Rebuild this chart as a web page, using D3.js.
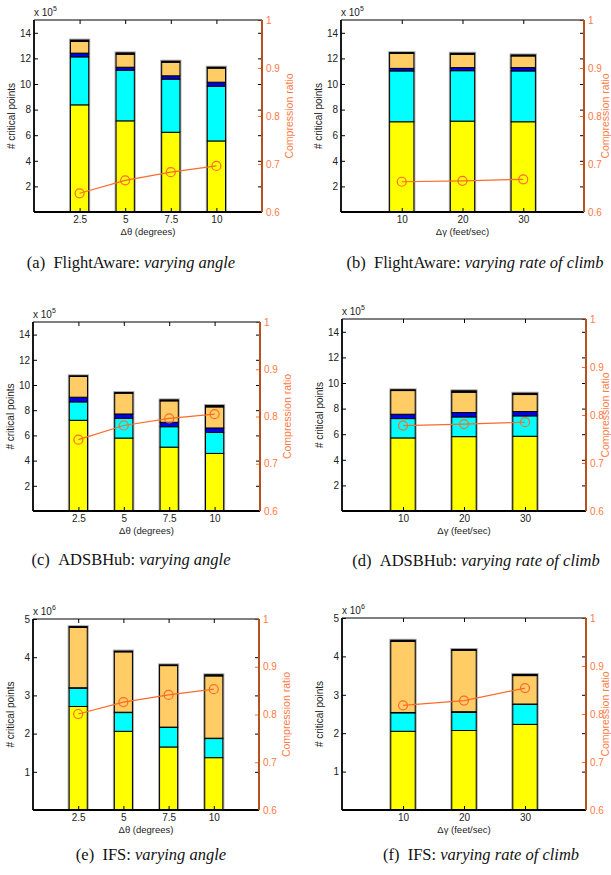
<!DOCTYPE html>
<html lang="en">
<head>
<meta charset="utf-8">
<title>Critical points and compression ratio</title>
<script src="https://cdn.jsdelivr.net/npm/d3@7"></script>
<style>
  body { margin: 0; background: #fff; }
  svg { display: block; }
  .tick text { font-family: "Liberation Sans", Arial, sans-serif; font-size: 10px; }
  .caption { font-family: "Liberation Serif", "Times New Roman", serif; font-size: 16.5px; }
</style>
</head>
<body>
<div id="chart"></div>
<script>
// categories
var angleCats = ["2.5", "5", "7.5", "10"];
var climbCats = ["10", "20", "30"];

// stacked segments per bar, bottom to top (axis units, x10^5 or x10^6)
var segNames = ["yellow", "cyan", "blue", "orange", "black"];
var segColors = ["#ffff00", "#00ffff", "#0000ee", "#ffcc66", "#000000"];

var faAngleBars = [[8.37, 3.75, 0.29, 0.91, 0.11], [7.12, 3.96, 0.23, 1.02, 0.10], [6.23, 4.15, 0.26, 1.06, 0.08], [5.55, 4.28, 0.31, 1.10, 0.07]];
var faClimbBars = [[7.05, 3.97, 0.20, 1.18, 0.05], [7.10, 3.94, 0.24, 1.04, 0.08], [7.05, 3.97, 0.26, 0.91, 0.08]];
var adAngleBars = [[7.20, 1.46, 0.37, 1.65, 0.05], [5.79, 1.57, 0.34, 1.65, 0.05], [5.07, 1.62, 0.35, 1.70, 0.08], [4.57, 1.67, 0.35, 1.67, 0.11]];
var adClimbBars = [[5.71, 1.51, 0.34, 1.85, 0.06], [5.81, 1.54, 0.34, 1.59, 0.11], [5.84, 1.59, 0.34, 1.33, 0.10]];
var ifsAngleBars = [[2.71, 0.48, 0.01, 1.58, 0.02], [2.06, 0.49, 0.01, 1.58, 0.02], [1.65, 0.51, 0.01, 1.61, 0.02], [1.37, 0.50, 0.01, 1.63, 0.03]];
var ifsClimbBars = [[2.05, 0.48, 0.01, 1.85, 0.03], [2.07, 0.47, 0.02, 1.60, 0.02], [2.23, 0.52, 0.01, 0.74, 0.03]];

// compression ratio (right axis)
var faAngleRatio = [0.639, 0.666, 0.683, 0.696];
var faClimbRatio = [0.663, 0.665, 0.668];
var adAngleRatio = [0.751, 0.781, 0.796, 0.805];
var adClimbRatio = [0.778, 0.781, 0.785];
var ifsAngleRatio = [0.801, 0.826, 0.841, 0.853];
var ifsClimbRatio = [0.818, 0.828, 0.854];

// axis ticks
var ticks1e5 = [2, 4, 6, 8, 10, 12, 14];
var ticks1e6 = [1, 2, 3, 4, 5];
var ratioTicks = [0.6, 0.7, 0.8, 0.9, 1];

var angleTitle = "\u0394\u03b8 (degrees)";
var climbTitle = "\u0394\u03b3 (feet/sec)";

var panels = [
  {bars: faAngleBars, ratio: faAngleRatio, cats: angleCats, ticks: ticks1e5, ymax: 15, exp: "5", xt: angleTitle,
   cap: ["(a)", "FlightAware: ", "varying angle"], box: [34, 262, 20, 212], cx: 131, cy: 268},
  {bars: faClimbBars, ratio: faClimbRatio, cats: climbCats, ticks: ticks1e5, ymax: 15, exp: "5", xt: climbTitle,
   cap: ["(b)", "FlightAware: ", "varying rate of climb"], box: [341, 584, 20, 212], cx: 475, cy: 268},
  {bars: adAngleBars, ratio: adAngleRatio, cats: angleCats, ticks: ticks1e5, ymax: 15, exp: "5", xt: angleTitle,
   cap: ["(c)", "ADSBHub: ", "varying angle"], box: [33, 260, 322, 511], cx: 131, cy: 565},
  {bars: adClimbBars, ratio: adClimbRatio, cats: climbCats, ticks: ticks1e5, ymax: 15, exp: "5", xt: climbTitle,
   cap: ["(d)", "ADSBHub: ", "varying rate of climb"], box: [342, 586, 319, 511], cx: 476, cy: 566},
  {bars: ifsAngleBars, ratio: ifsAngleRatio, cats: angleCats, ticks: ticks1e6, ymax: 5, exp: "6", xt: angleTitle,
   cap: ["(e)", "IFS: ", "varying angle"], box: [33, 259, 619, 810], cx: 151, cy: 860},
  {bars: ifsClimbBars, ratio: ifsClimbRatio, cats: climbCats, ticks: ticks1e6, ymax: 5, exp: "6", xt: climbTitle,
   cap: ["(f)", "IFS: ", "varying rate of climb"], box: [342, 586, 618, 810], cx: 481, cy: 860}
];

var orange = "#ff6a2a";
var orangeText = "#ff7a45";
var axisBrown = "#b8501f";

var svg = d3.select("#chart").append("svg")
  .attr("width", 611)
  .attr("height", 875);

panels.forEach(drawPanel);

function drawPanel(p) {
  var L = p.box[0], R = p.box[1], T = p.box[2], B = p.box[3];
  var n = p.cats.length;
  var x = d3.scaleLinear().domain([0, n + 1]).range([L, R]);
  var y = d3.scaleLinear().domain([0, p.ymax]).range([B, T]);
  var yr = d3.scaleLinear().domain([0.6, 1]).range([B, T]);
  var g = svg.append("g");
  var bw = x(0.4) - x(0);

  var stack = d3.stack().keys(d3.range(segNames.length))
    .value(function(d, k) { return d[k]; });
  var series = stack(p.bars);

  // grey halo behind each bar
  g.selectAll(".halo")
    .data(p.bars)
    .enter().append("rect")
    .attr("x", function(d, i) { return x(i + 1) - bw / 2 - 1.5; })
    .attr("y", function(d) { return y(d3.sum(d)) - 1.5; })
    .attr("width", bw + 3)
    .attr("height", function(d) { return B - y(d3.sum(d)) + 1.5; })
    .attr("fill", "#a8a8a8");

  g.selectAll(".seg")
    .data(series)
    .enter().append("g")
    .attr("fill", function(s, k) { return segColors[k]; })
    .selectAll("rect")
    .data(function(s) { return s; })
    .enter().append("rect")
    .attr("x", function(d, i) { return x(i + 1) - bw / 2; })
    .attr("y", function(d) { return y(d[1]); })
    .attr("width", bw)
    .attr("height", function(d) { return Math.max(0, y(d[0]) - y(d[1])); })
    .attr("stroke", "#000")
    .attr("stroke-width", 1);

  // ratio line
  var line = d3.line()
    .x(function(d, i) { return x(i + 1); })
    .y(function(d) { return yr(d); });
  g.append("path")
    .datum(p.ratio)
    .attr("d", line)
    .attr("fill", "none")
    .attr("stroke", orange)
    .attr("stroke-width", 1.2);
  g.selectAll(".pt")
    .data(p.ratio)
    .enter().append("circle")
    .attr("cx", function(d, i) { return x(i + 1); })
    .attr("cy", function(d) { return yr(d); })
    .attr("r", 4.5)
    .attr("fill", "none")
    .attr("stroke", orange)
    .attr("stroke-width", 1.2);

  // axes (ticks pointing inward)
  var left = g.append("g").attr("transform", "translate(" + L + ",0)")
    .call(d3.axisLeft(y).tickValues(p.ticks).tickFormat(d3.format("d")).tickSizeInner(-4).tickSizeOuter(0).tickPadding(3));
  var bottom = g.append("g").attr("transform", "translate(0," + B + ")")
    .call(d3.axisBottom(x).tickValues(d3.range(1, n + 1)).tickFormat(function(d) { return p.cats[d - 1]; })
      .tickSizeInner(-4).tickSizeOuter(0).tickPadding(4));
  var top = g.append("g").attr("transform", "translate(0," + T + ")")
    .call(d3.axisTop(x).tickValues(d3.range(1, n + 1)).tickFormat("").tickSizeInner(-4).tickSizeOuter(0));
  var rightBlack = g.append("g").attr("transform", "translate(" + R + ",0)")
    .call(d3.axisRight(y).tickValues(p.ticks).tickFormat("").tickSizeInner(-4).tickSizeOuter(0));
  var rightOrange = g.append("g").attr("transform", "translate(" + R + ",0)")
    .call(d3.axisRight(yr).tickValues(ratioTicks).tickFormat(d3.format("~g")).tickSizeInner(-4).tickSizeOuter(0).tickPadding(4));

  [left, bottom, top, rightBlack, rightOrange].forEach(function(a) { a.select(".domain").remove(); });
  [left, bottom].forEach(function(a) { a.selectAll("text").attr("fill", "#222"); });
  rightOrange.selectAll("line").attr("stroke", orange);
  rightOrange.selectAll("text").attr("fill", orangeText);

  // frame
  g.append("line").attr("x1", L).attr("x2", R).attr("y1", T).attr("y2", T).attr("stroke", "#000").attr("stroke-width", 1);
  g.append("line").attr("x1", L).attr("x2", L).attr("y1", T).attr("y2", B).attr("stroke", "#000").attr("stroke-width", 1.8);
  g.append("line").attr("x1", L).attr("x2", R).attr("y1", B).attr("y2", B).attr("stroke", "#000").attr("stroke-width", 1.8);
  g.append("line").attr("x1", R).attr("x2", R).attr("y1", T).attr("y2", B).attr("stroke", axisBrown).attr("stroke-width", 2);

  // exponent label
  var ex = g.append("text")
    .attr("x", L).attr("y", T - 4)
    .attr("font-family", "Liberation Sans, Arial, sans-serif")
    .attr("font-size", 10).attr("fill", "#222")
    .text("x 10");
  ex.append("tspan").attr("dy", -5).attr("font-size", 7).text(p.exp);

  // axis titles
  g.append("text")
    .attr("transform", "translate(" + (L - 19) + "," + ((T + B) / 2) + ") rotate(-90)")
    .attr("text-anchor", "middle")
    .attr("font-family", "Liberation Sans, Arial, sans-serif")
    .attr("font-size", 10).attr("fill", "#222")
    .text("# critical points");
  // right title sits at the page edge on the right column, keep it inside
  g.append("text")
    .attr("transform", "translate(" + Math.min(R + 31, 609) + "," + ((T + B) / 2) + ") rotate(-90)")
    .attr("text-anchor", "middle")
    .attr("font-family", "Liberation Sans, Arial, sans-serif")
    .attr("font-size", 10.5).attr("fill", orangeText)
    .text("Compression ratio");
  g.append("text")
    .attr("x", (L + R) / 2).attr("y", B + 23)
    .attr("text-anchor", "middle")
    .attr("font-family", "Liberation Sans, Arial, sans-serif")
    .attr("font-size", 9.5).attr("fill", "#222")
    .text(p.xt);

  // caption
  var c = g.append("text").attr("class", "caption")
    .attr("x", p.cx).attr("y", p.cy)
    .attr("text-anchor", "middle").attr("fill", "#111");
  c.append("tspan").text(p.cap[0] + "\u2002");
  c.append("tspan").text(p.cap[1]);
  c.append("tspan").attr("font-style", "italic").text(p.cap[2]);
}
</script>
</body>
</html>
